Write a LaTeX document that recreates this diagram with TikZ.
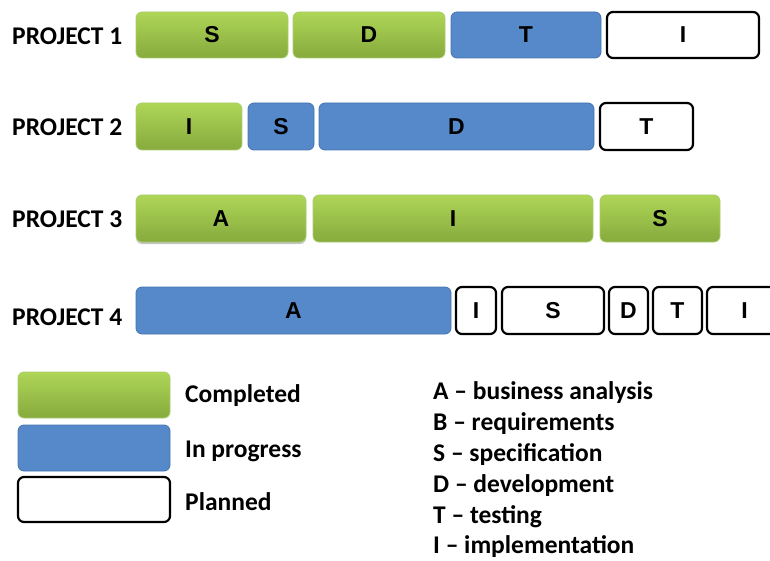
\documentclass[tikz,border=0pt]{standalone}
\usepackage{fontspec}
\setmainfont{Carlito}
\newfontfamily\boxfont{Liberation Sans}
\usetikzlibrary{shadows}
\definecolor{greentop}{HTML}{AED657}
\definecolor{greenbot}{HTML}{87AA3D}
\definecolor{greenedge}{HTML}{A9CD6C}
\definecolor{bluefill}{HTML}{5589C9}
\definecolor{blueedge}{HTML}{4673B0}
\tikzset{
  phase/.style={anchor=north west, inner sep=0pt, outer sep=0pt, rounded corners=6pt,
    font=\boxfont\bfseries\fontsize{23}{23}\selectfont},
  done/.style={phase, draw=greenedge, line width=0.8pt, top color=greentop, bottom color=greenbot},
  active/.style={phase, draw=blueedge, line width=0.8pt, fill=bluefill},
  planned/.style={phase, draw=black, line width=2.2pt, fill=white},
  projlabel/.style={anchor=west, inner sep=0pt, font=\bfseries\fontsize{25.5}{25.5}\selectfont},
  legendtext/.style={anchor=west, inner sep=0pt, font=\bfseries\fontsize{25.5}{25.5}\selectfont},
}
\newcommand{\phasebox}[7]{% style, name, x, y, width, height, letter
  \node[#1, minimum width=#5pt, minimum height=#6pt] (#2) at (#3,#4) {#7};}
\begin{document}
\begin{tikzpicture}[x=1pt, y=-1pt]
\useasboundingbox (0,0) rectangle (770,561);
\begin{scope}
\clip (0,0) rectangle (770,561);
% project labels
\node[projlabel] (p1) at (12,36) {PROJECT 1};
\node[projlabel] (p2) at (12,127) {PROJECT 2};
\node[projlabel] (p3) at (12,219) {PROJECT 3};
\node[projlabel] (p4) at (12,317) {PROJECT 4};
% project 1
\phasebox{done}{a1}{136}{12}{152}{46}{S}
\phasebox{done}{a2}{293}{12}{152}{46}{D}
\phasebox{active}{a3}{451}{12}{150}{46}{T}
\phasebox{planned}{a4}{607}{12}{152}{46}{I}
% project 2
\phasebox{done}{b1}{136}{103}{106}{47}{I}
\phasebox{active}{b2}{248}{103}{66}{47}{S}
\phasebox{active}{b3}{319}{103}{275}{47}{D}
\phasebox{planned}{b4}{600}{103}{93}{47}{T}
% project 3
\node[done, minimum width=170pt, minimum height=47pt, drop shadow={shadow xshift=0pt, shadow yshift=-2pt, fill=black!45}] (c1) at (136,195) {A};
\phasebox{done}{c2}{313}{195}{280}{47}{I}
\phasebox{done}{c3}{600}{195}{120}{47}{S}
% project 4
\phasebox{active}{d1}{136}{287}{315}{47}{A}
\phasebox{planned}{d2}{456}{287}{40}{47}{I}
\phasebox{planned}{d3}{502}{287}{102}{47}{S}
\phasebox{planned}{d4}{609}{287}{39}{47}{D}
\phasebox{planned}{d5}{653}{287}{49}{47}{T}
\phasebox{planned}{d6}{707}{287}{75}{47}{I}
\end{scope}
% status legend
\phasebox{done}{k1}{18}{372}{152}{46}{}
\phasebox{active}{k2}{18}{425}{152}{46}{}
\phasebox{planned}{k3}{18}{477}{152}{45}{}
\node[legendtext] (t1) at (185,396) {Completed};
\node[legendtext] (t2) at (185,451) {In progress};
\node[legendtext] (t3) at (185,502) {Planned};
% phase key
\node[legendtext] (l1) at (433,393) {A -- business analysis};
\node[legendtext] (l2) at (433,424) {B -- requirements};
\node[legendtext] (l3) at (433,455) {S -- specification};
\node[legendtext] (l4) at (433,486) {D -- development};
\node[legendtext] (l5) at (433,517) {T -- testing};
\node[legendtext] (l6) at (433,547) {I -- implementation};
\end{tikzpicture}
\end{document}
